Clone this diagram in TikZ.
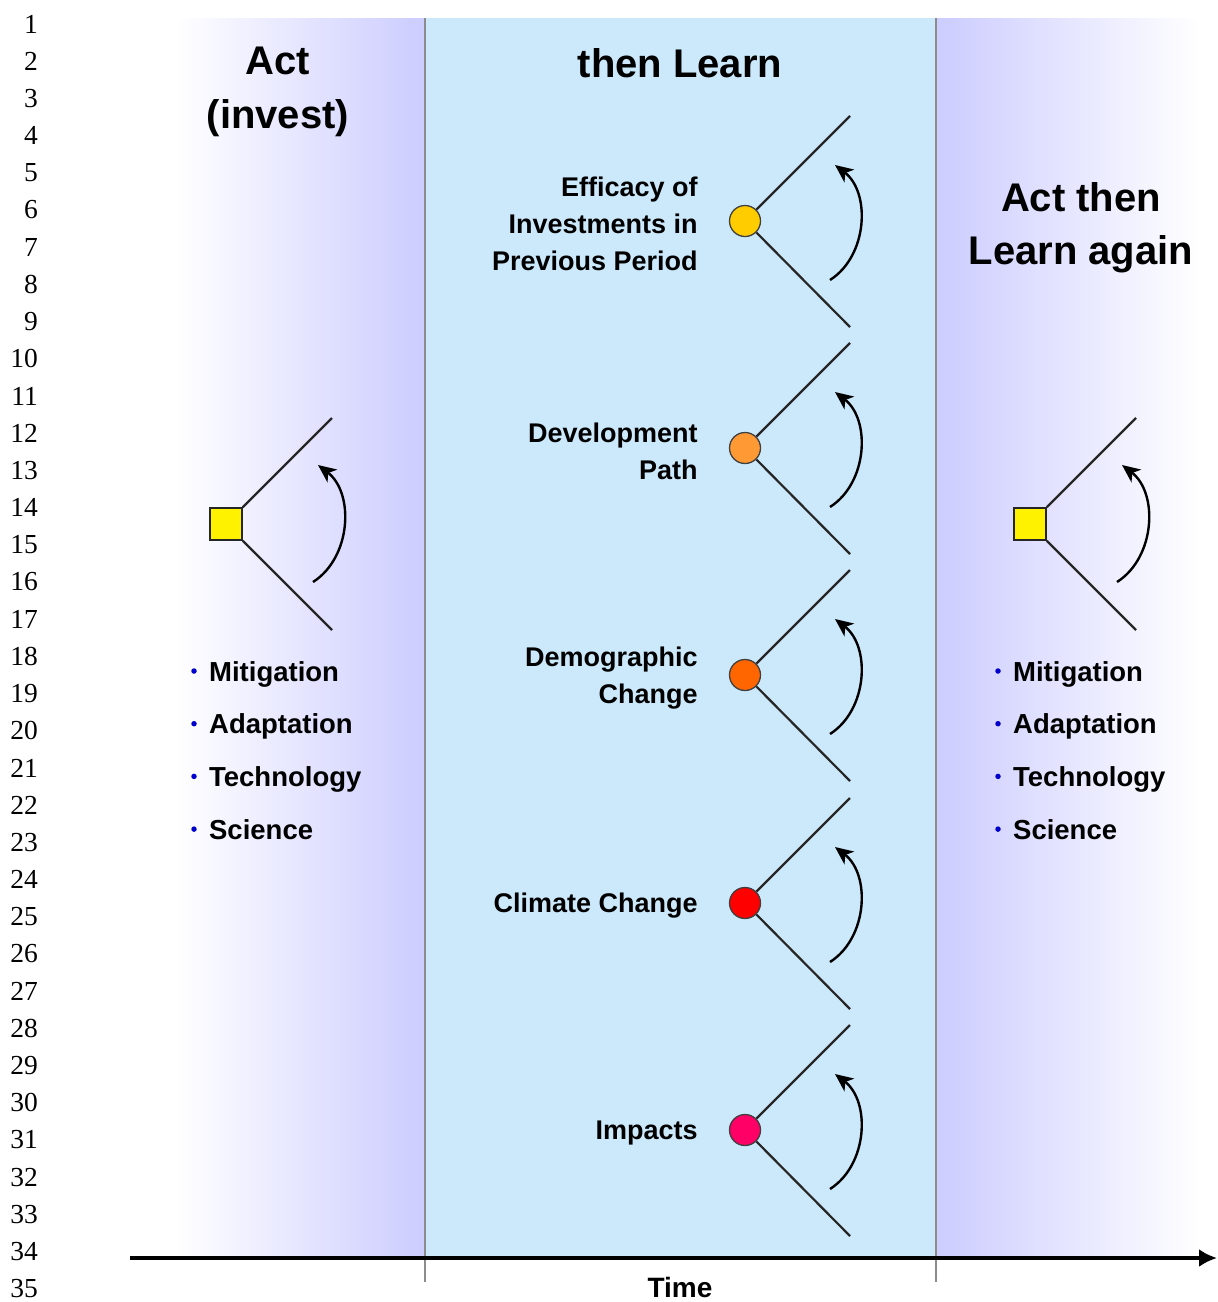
\documentclass[tikz,border=0pt]{standalone}
\usepackage{fontspec}
\setmainfont{Liberation Sans}
\newfontfamily\zeilenfont{Liberation Serif}
\usetikzlibrary{arrows.meta,positioning}
\definecolor{lavendel}{RGB}{204,204,255}
\definecolor{hellblau}{RGB}{204,233,251}
\definecolor{gelbgold}{RGB}{255,204,0}
\definecolor{hellorange}{RGB}{255,153,51}
\definecolor{dunkelorange}{RGB}{255,102,0}
\definecolor{rotpink}{RGB}{255,0,102}

\begin{document}
\begin{tikzpicture}[x=1pt, y=-1pt,
			baum/.style={line width=2.2pt, black!85},
			pfeil/.style={line width=2.4pt, black, -{Stealth[length=18pt,width=16pt,inset=5pt]}, bend right=55},
			knoten/.style={circle, draw=black!75, line width=1.3pt, minimum size=31pt, inner sep=0pt},
			kasten/.style={rectangle, draw=black!85, line width=1.5pt, fill=yellow, minimum size=32pt, inner sep=0pt},
			titel/.style={font=\fontsize{40}{54}\selectfont\bfseries, align=center, inner sep=0pt},
			beschr/.style={font=\fontsize{27}{37}\selectfont\bfseries, align=right, inner sep=0pt},
			liste/.style={font=\fontsize{27.5}{33}\selectfont\bfseries, inner sep=0pt},
			punkt/.style={circle, fill=blue!80!black, minimum size=5.5pt, inner sep=0pt},
			zeile/.style={font=\fontsize{27.5}{30}\zeilenfont, inner sep=0pt}]
			\useasboundingbox (0,0) rectangle (1218,1302);
			% Hintergrund
			\fill[white] (0,0) rectangle (1218,1302);
			\fill[white] (130,18) rectangle (175,1258);
			\shade[left color=white, right color=lavendel] (175,18) rectangle (425,1258);
			\fill[hellblau] (425,18) rectangle (936,1258);
			\shade[left color=lavendel, right color=white] (936,18) rectangle (1200,1258);
			\fill[white] (1200,18) rectangle (1218,1258);
			% Trennlinien
			\draw[black!45, line width=2.8pt] (425,18) -- (425,1282);
			\draw[black!45, line width=2.8pt] (936,18) -- (936,1282);
			% Zeilennummern
			\foreach \n in {1,...,35} \node[zeile, anchor=east] (z\n) at (38,{24+(\n-1)*37.2}) {\n};
			% Zeitachse
			\coordinate (t0) at (130,1258);
			\coordinate (t1) at (1217,1258);
			\draw[line width=3.5pt, -{Latex[length=18pt,width=18pt]}] (t0) -- (t1);
			\node[font=\fontsize{28}{30}\selectfont\bfseries, inner sep=0pt] (zeit) at (680,1287) {Time};
			% Ueberschriften
			\node[titel] (act) at (278,92) {Act\\(invest)};
			\node[titel] (learn) at (680,63) {then Learn};
			\node[titel, font=\fontsize{40}{53}\selectfont\bfseries] (again) at (1081,228) {Act then\\Learn again};
			% Entscheidungsbaeume links und rechts
			\foreach \s/\x in {l/226,r/1030} {
				\node[kasten] (q\s) at (\x,524) {};
				\coordinate (q\s o) at ({\x+106},418);
				\coordinate (q\s u) at ({\x+106},630);
				\draw[baum] (q\s.north east) -- (q\s o);
				\draw[baum] (q\s.south east) -- (q\s u);
				\coordinate (q\s a) at ({\x+87},582);
				\coordinate (q\s b) at ({\x+92},465);
				\draw[pfeil] (q\s a) to (q\s b);
				% Aufzaehlung
				\foreach \j/\wort in {1/Mitigation,2/Adaptation,3/Technology,4/Science} {
					\node[punkt] (p\s\j) at ({\x-32},{671+(\j-1)*52.7}) {};
					\node[liste, anchor=base west] (w\s\j) at ([xshift=12pt,yshift=-10pt]p\s\j.east) {\wort};
				}
			}
			% Zufallsknoten in der Mitte
			\foreach \i/\y/\farbe/\txt in {1/221/gelbgold/{Efficacy of\\Investments in\\Previous Period},
					2/448/hellorange/{Development\\Path}, 3/675/dunkelorange/{Demographic\\Change},
					4/903/red/{Climate Change}, 5/1130/rotpink/{Impacts}} {
				\node[knoten, fill=\farbe] (k\i) at (745,\y) {};
				\coordinate (k\i o) at (850,{\y-105});
				\coordinate (k\i u) at (850,{\y+106});
				\draw[baum] (k\i) -- (k\i o);
				\draw[baum] (k\i) -- (k\i u);
				\coordinate (k\i a) at (830,{\y+59});
				\coordinate (k\i b) at (835,{\y-56});
				\draw[pfeil] (k\i a) to (k\i b);
				\node[beschr, left=31pt of k\i, yshift=-3pt] (b\i) {\txt};
			}
		\end{tikzpicture}
\end{document}
